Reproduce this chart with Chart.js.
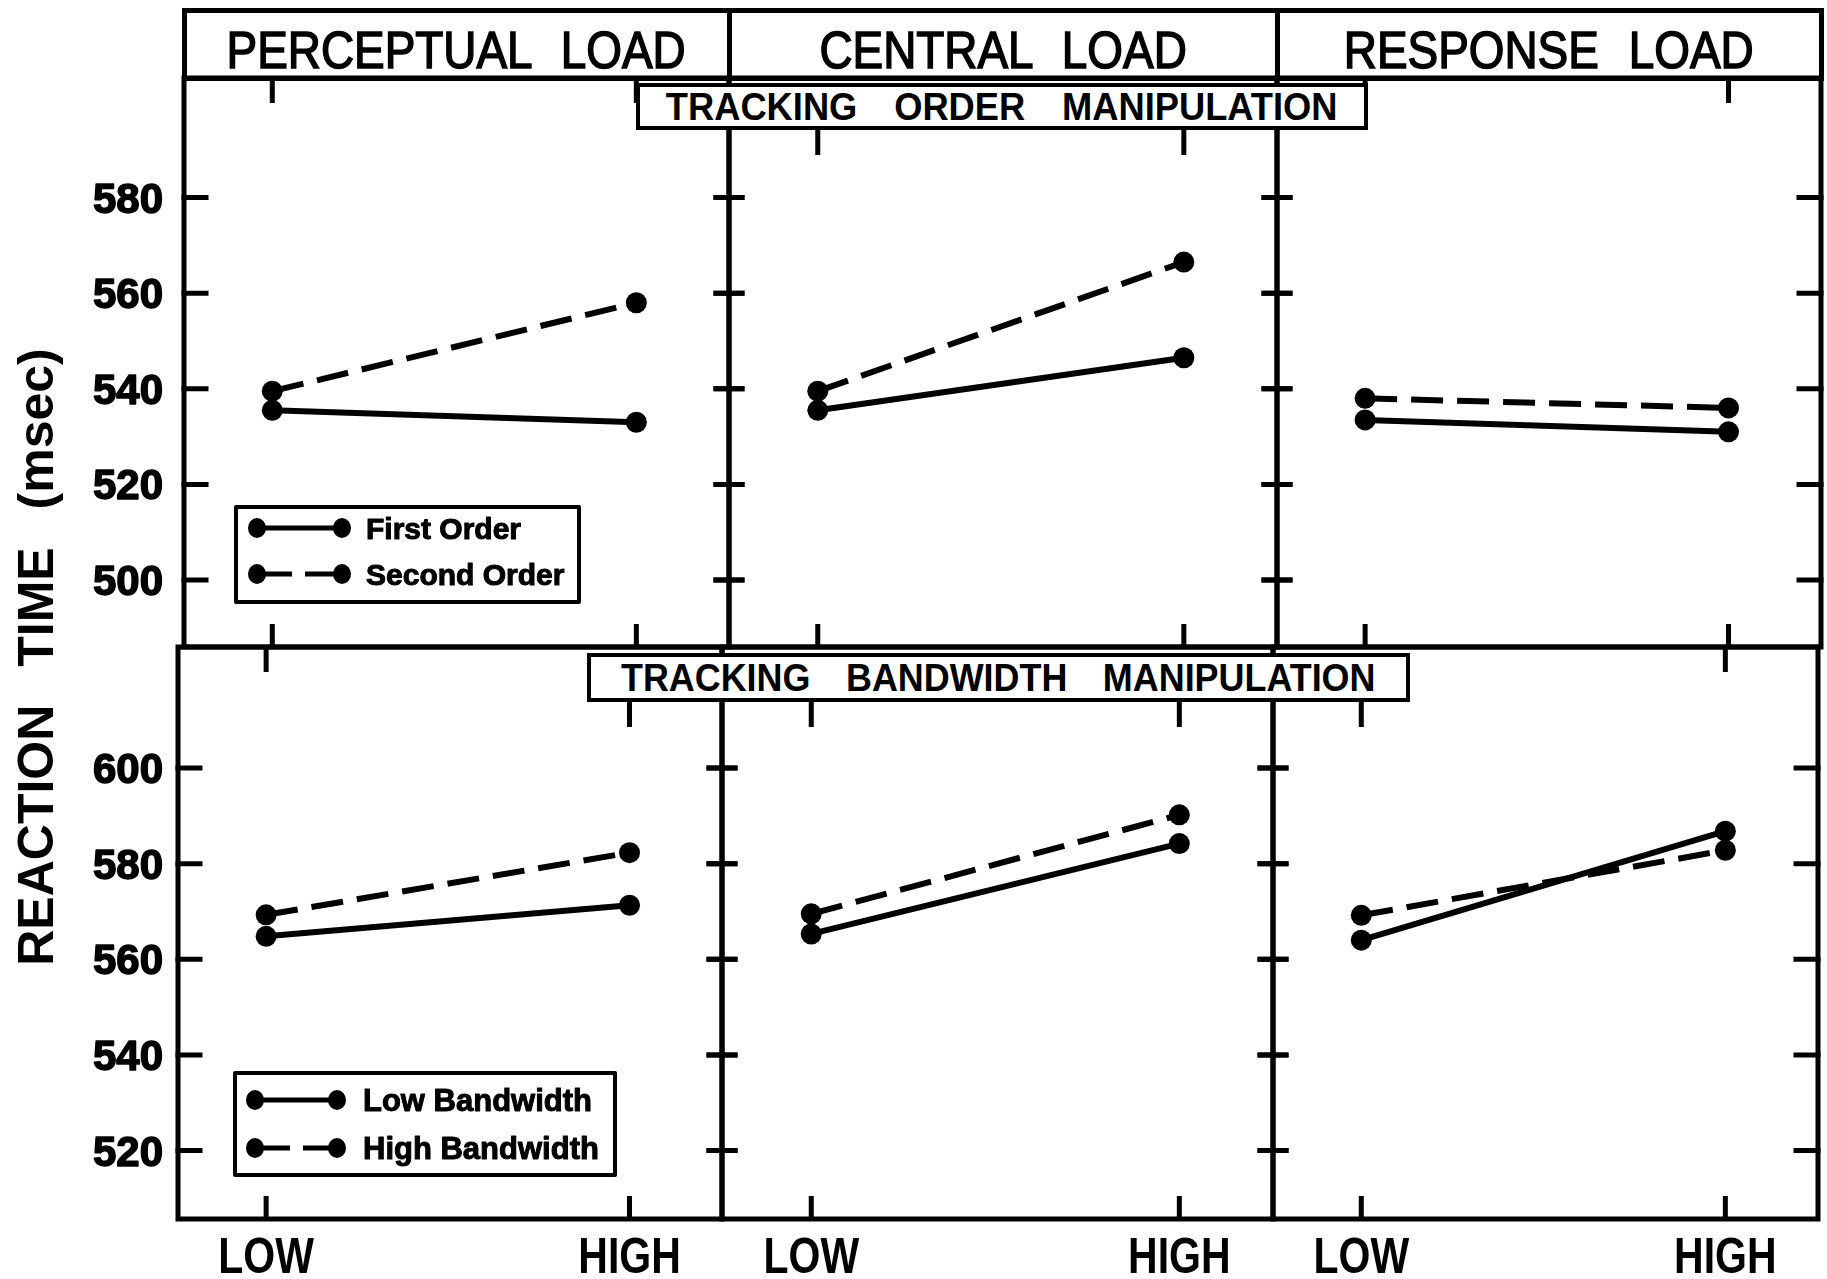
<!DOCTYPE html>
<html>
<head>
<meta charset="utf-8">
<title>Reaction time by load and tracking manipulation</title>
<script src="https://cdn.jsdelivr.net/npm/chart.js@4.4.1/dist/chart.umd.min.js"></script>
<style>
    body { margin: 0; background: #fff; }
    #figure {
        position: relative;
        width: 1827px;
        height: 1279px;
        overflow: hidden;
        font-family: 'Liberation Sans', Arial, sans-serif;
        color: #000;
    }
    #figure canvas { position: absolute; left: 0; top: 0; }
    .abs { position: absolute; box-sizing: border-box; }
    .label {
        display: flex;
        align-items: center;
        justify-content: center;
        white-space: nowrap;
        line-height: 1;
    }
    .label span { display: inline-block; }
    .header span {
        font-size: 51px;
        font-weight: normal;
        word-spacing: 19px;
        -webkit-text-stroke: 1.5px #000;
        transform: scaleX(0.9);
    }
    .box { border: 4px solid #000; background: #fff; }
    .box span { font-size: 38px; font-weight: bold; }
    .ytitle span { font-size: 50px; font-weight: bold; word-spacing: 24px; }
</style>
</head>
<body>
<div id="figure">
    <canvas id="panel-0" width="1827" height="1279"></canvas>
    <canvas id="panel-1" width="1827" height="1279"></canvas>
    <canvas id="panel-2" width="1827" height="1279"></canvas>
    <canvas id="panel-3" width="1827" height="1279"></canvas>
    <canvas id="panel-4" width="1827" height="1279"></canvas>
    <canvas id="panel-5" width="1827" height="1279"></canvas>

    <!-- header row -->
    <div class="abs" style="left:182px; top:8px; width:1642px; height:73px; border:5px solid #000;"></div>
    <div class="abs" style="left:727px; top:8px; width:5px; height:73px; background:#000;"></div>
    <div class="abs" style="left:1275px; top:8px; width:5px; height:73px; background:#000;"></div>
    <div class="abs label header" style="left:184px; top:26px; width:545px; height:49px;"><span>PERCEPTUAL LOAD</span></div>
    <div class="abs label header" style="left:729px; top:26px; width:548px; height:49px;"><span>CENTRAL LOAD</span></div>
    <div class="abs label header" style="left:1277px; top:26px; width:544px; height:49px;"><span>RESPONSE LOAD</span></div>

    <!-- manipulation boxes -->
    <div class="abs label box" style="left:636px; top:83px; width:732px; height:47px;">
        <span style="word-spacing:28px; transform:scaleX(0.955);">TRACKING ORDER MANIPULATION</span></div>
    <div class="abs label box" style="left:587px; top:653px; width:823px; height:49px;">
        <span style="word-spacing:27px; transform:scaleX(0.945);">TRACKING BANDWIDTH MANIPULATION</span></div>

    <!-- y axis title -->
    <div class="abs label ytitle" style="left:-314px; top:627px; width:700px; height:60px; transform:rotate(-90deg);"><span>REACTION TIME (msec)</span></div>
</div>

<script>
// x categories
const conditions = ['LOW', 'HIGH'];
const conditionX = [0, 1];

// y tick labels
const topTicks = [500, 520, 540, 560, 580];
const bottomTicks = [520, 540, 560, 580, 600];
const topRange = [486, 605];
const bottomRange = [505.7, 625.3];

// Tracking order manipulation (msec)
const perceptualFirstOrder = [535.5, 533];
const perceptualSecondOrder = [539.5, 558];
const centralFirstOrder = [535.5, 546.5];
const centralSecondOrder = [539.5, 566.5];
const responseFirstOrder = [533.5, 531];
const responseSecondOrder = [538, 536];

// Tracking bandwidth manipulation (msec)
const perceptualLowBandwidth = [564.8, 571.3];
const perceptualHighBandwidth = [569.3, 582.3];
const centralLowBandwidth = [565.3, 584.2];
const centralHighBandwidth = [569.5, 590.2];
const responseLowBandwidth = [564, 586.8];
const responseHighBandwidth = [569.2, 582.8];

const DASH = [32, 14];
const W = 1827, H = 1279;

/**
 * Frame, inward ticks, tick labels and legend for one panel
 */
const panelFrame = {
    id: 'panelFrame',
    beforeDatasetsDraw(chart, args, o) {
        const ctx = chart.ctx;
        const a = chart.chartArea;
        const xs = chart.scales.x, ys = chart.scales.y;
        ctx.save();
        ctx.strokeStyle = '#000';
        ctx.fillStyle = '#000';
        ctx.lineWidth = 5;
        ctx.lineCap = 'square';
        ctx.strokeRect(a.left, a.top, a.right - a.left, a.bottom - a.top);

        // y ticks
        o.yTicks.forEach(v => {
            const y = ys.getPixelForValue(v);
            ctx.beginPath();
            if (o.outerLeft) { ctx.moveTo(a.left, y); ctx.lineTo(a.left + 22, y); }
            else { ctx.moveTo(a.left - 13, y); ctx.lineTo(a.left + 13, y); }
            if (o.outerRight) { ctx.moveTo(a.right - 22, y); ctx.lineTo(a.right, y); }
            else { ctx.moveTo(a.right - 13, y); ctx.lineTo(a.right + 13, y); }
            ctx.stroke();
        });

        // x ticks, top ones pushed below the manipulation box when covered
        ctx.lineCap = 'butt';
        conditionX.forEach(v => {
            const x = xs.getPixelForValue(v);
            let y0 = a.top;
            if (o.box && x > o.box[0] && x < o.box[1]) y0 = o.box[2];
            ctx.beginPath();
            ctx.moveTo(x, y0);
            ctx.lineTo(x, y0 + 25);
            ctx.moveTo(x, a.bottom - 23);
            ctx.lineTo(x, a.bottom);
            ctx.stroke();
        });

        // y tick labels
        if (o.yLabelX) {
            ctx.font = 'bold 42px "Liberation Sans"';
            ctx.textAlign = 'right';
            ctx.textBaseline = 'alphabetic';
            ctx.lineWidth = 1.5;
            ctx.lineJoin = 'round';
            o.yTicks.forEach(v => {
                const y = ys.getPixelForValue(v) + 15;
                ctx.fillText(String(v), o.yLabelX, y);
                ctx.strokeText(String(v), o.yLabelX, y);
            });
        }

        // x tick labels
        if (o.xLabelY) {
            ctx.font = 'bold 50px "Liberation Sans"';
            ctx.textAlign = 'center';
            ctx.textBaseline = 'alphabetic';
            conditions.forEach((c, i) => {
                ctx.save();
                ctx.translate(xs.getPixelForValue(conditionX[i]), o.xLabelY);
                ctx.scale(0.82, 1);
                ctx.fillText(c, 0, 0);
                ctx.restore();
            });
        }

        // legend box
        if (o.legend) {
            const L = o.legend;
            ctx.lineWidth = 4;
            ctx.strokeRect(L.box[0], L.box[1], L.box[2] - L.box[0], L.box[3] - L.box[1]);
            ctx.font = 'bold ' + L.size + 'px "Liberation Sans"';
            ctx.textAlign = 'left';
            chart.data.datasets.forEach((ds, i) => {
                const y = L.rows[i];
                ctx.lineWidth = 5;
                ctx.lineCap = 'butt';
                ctx.setLineDash(ds.borderDash.length ? [35, 13] : []);
                ctx.beginPath();
                ctx.moveTo(L.line[0], y);
                ctx.lineTo(L.line[1], y);
                ctx.stroke();
                ctx.setLineDash([]);
                [L.line[0], L.line[1]].forEach(x => {
                    ctx.beginPath();
                    ctx.ellipse(x, y, 9, 10, 0, 0, Math.PI * 2);
                    ctx.fill();
                });
                const ty = y + 0.358 * L.size;
                ctx.lineWidth = 1;
                ctx.fillText(ds.label, L.text, ty);
                ctx.strokeText(ds.label, L.text, ty);
            });
        }
        ctx.restore();
    }
};

function toPoints(values) {
    return values.map((v, i) => ({ x: conditionX[i], y: v }));
}

function series(label, values, dashed) {
    return {
        label: label,
        data: toPoints(values),
        borderColor: '#000',
        backgroundColor: '#000',
        borderWidth: 6,
        borderDash: dashed ? DASH : [],
        pointRadius: 10.5,
        pointBorderWidth: 0,
        pointHoverRadius: 10.5,
        tension: 0,
        clip: false
    };
}

function makePanel(id, area, range, datasets, frame) {
    return new Chart(document.getElementById(id), {
        type: 'line',
        data: { datasets: datasets },
        options: {
            responsive: false,
            animation: false,
            devicePixelRatio: 1,
            layout: {
                autoPadding: false,
                padding: { left: area[0], top: area[1], right: W - area[2], bottom: H - area[3] }
            },
            plugins: { legend: { display: false }, tooltip: { enabled: false }, panelFrame: frame },
            scales: {
                x: { type: 'linear', display: false, min: -0.2425, max: 1.2545 },
                y: { type: 'linear', display: false, min: range[0], max: range[1] }
            }
        },
        plugins: [panelFrame]
    });
}

const orderBox = [645, 1360, 130];
const bandwidthBox = [587, 1410, 702];

// top row: tracking order manipulation
makePanel('panel-0', [184, 78, 729, 647], topRange, [
    series('First Order', perceptualFirstOrder, false),
    series('Second Order', perceptualSecondOrder, true)
], {
    yTicks: topTicks, outerLeft: true, outerRight: false, box: orderBox, yLabelX: 163,
    legend: { box: [236, 507, 579, 602], rows: [528, 574], line: [257, 342], text: 366, size: 30 }
});
makePanel('panel-1', [729, 78, 1277, 647], topRange, [
    series('First Order', centralFirstOrder, false),
    series('Second Order', centralSecondOrder, true)
], { yTicks: topTicks, outerLeft: false, outerRight: false, box: orderBox });
makePanel('panel-2', [1277, 78, 1821, 647], topRange, [
    series('First Order', responseFirstOrder, false),
    series('Second Order', responseSecondOrder, true)
], { yTicks: topTicks, outerLeft: false, outerRight: true, box: orderBox });

// bottom row: tracking bandwidth manipulation
makePanel('panel-3', [178, 647, 722, 1219], bottomRange, [
    series('Low Bandwidth', perceptualLowBandwidth, false),
    series('High Bandwidth', perceptualHighBandwidth, true)
], {
    yTicks: bottomTicks, outerLeft: true, outerRight: false, box: bandwidthBox, yLabelX: 163, xLabelY: 1273,
    legend: { box: [235, 1073, 615, 1175], rows: [1100, 1148], line: [255, 337], text: 363, size: 31 }
});
makePanel('panel-4', [722, 647, 1273, 1219], bottomRange, [
    series('Low Bandwidth', centralLowBandwidth, false),
    series('High Bandwidth', centralHighBandwidth, true)
], { yTicks: bottomTicks, outerLeft: false, outerRight: false, box: bandwidthBox, xLabelY: 1273 });
makePanel('panel-5', [1273, 647, 1818, 1219], bottomRange, [
    series('Low Bandwidth', responseLowBandwidth, false),
    series('High Bandwidth', responseHighBandwidth, true)
], { yTicks: bottomTicks, outerLeft: false, outerRight: true, box: bandwidthBox, xLabelY: 1273 });
</script>
</body>
</html>
